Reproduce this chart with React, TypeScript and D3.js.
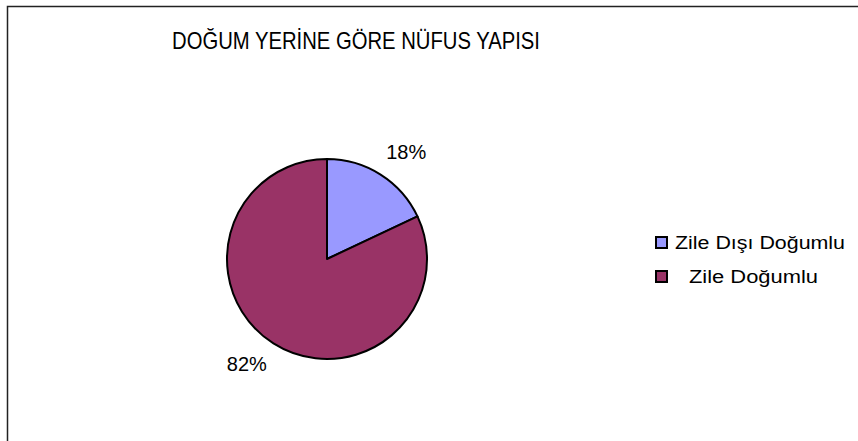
import React from 'react';
import {pie, arc, scaleOrdinal} from 'd3';

const categories = ['Zile Dışı Doğumlu', 'Zile Doğumlu'];
const values = [18, 82];
const percentLabels = ['18%', '82%'];
const legendLabels = ['Zile Dışı Doğumlu', 'Zile Doğumlu'];
const title = 'DOĞUM YERİNE GÖRE NÜFUS YAPISI';

const W = 858;
const H = 441;
const font = '"Liberation Sans", Arial, Helvetica, sans-serif';

// label nudges (px) off the arc centroid, per slice
const labelShift = [[16, -6], [-17, 7]];
// legend text: start x and drawn width (the original font runs wider)
const legendTextX = [19, 33];
const legendTextLen = [170, 129];

const App = () => {
  const cx = 327;
  const cy = 259;
  const r = 100;

  const color = scaleOrdinal<string, string>()
    .domain(categories)
    .range(['#9999FF', '#993366']);

  const slices = pie<number>().sort(null)(values);
  const arcGen = arc<any>().innerRadius(0).outerRadius(r);
  const labelArc = arc<any>().innerRadius(r * 1.18).outerRadius(r * 1.18);

  return (
    <svg width={W} height={H} style={{position: 'absolute', left: 0, top: 0, background: '#fff'}}>
      <rect x={7.5} y={6.5} width={W + 20} height={H + 20} fill="#fff" stroke="#222" strokeWidth={1.5} />
      <text x={172} y={49} textLength={368} lengthAdjust="spacingAndGlyphs" fontFamily={font} fontSize={24} fill="#000">{title}</text>
      <g transform={`translate(${cx},${cy})`}>
        {slices.map((s, i) => (
          <path key={i} d={arcGen(s) as string} fill={color(categories[i])} stroke="#000" strokeWidth={2} strokeLinejoin="round" />
        ))}
        {slices.map((s, i) => {
          const [lx, ly] = labelArc.centroid(s);
          return (
            <text key={'l' + i} x={lx + labelShift[i][0]} y={ly + labelShift[i][1]} textAnchor="middle" dominantBaseline="middle" fontFamily={font} fontSize={20} fill="#000">
              {percentLabels[i]}
            </text>
          );
        })}
      </g>
      <g fontFamily={font} fontSize={18} fill="#000">
        {categories.map((c, i) => (
          <g key={c} transform={`translate(656,${237 + i * 34})`}>
            <rect x={0} y={0} width={11} height={11} fill={color(c)} stroke="#000" strokeWidth={2} />
            <text x={legendTextX[i]} y={11.5} textLength={legendTextLen[i]} lengthAdjust="spacingAndGlyphs">{legendLabels[i]}</text>
          </g>
        ))}
      </g>
    </svg>
  );
};

export default App;
